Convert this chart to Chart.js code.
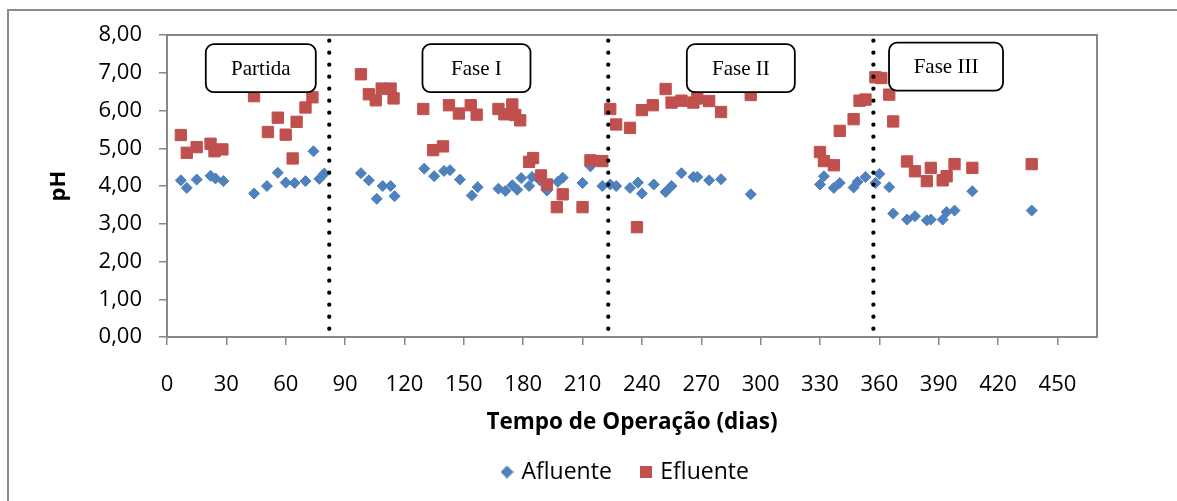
<!DOCTYPE html>
<html lang="pt">
<head>
<meta charset="utf-8">
<title>pH afluente e efluente</title>
<script src="https://cdn.jsdelivr.net/npm/chart.js@4.4.1/dist/chart.umd.min.js"></script>
<style>
  html, body { margin: 0; padding: 0; background: #ffffff; overflow: hidden; }
  #wrap { position: relative; width: 1177px; height: 501px; }
  canvas { display: block; }
</style>
</head>
<body>
<div id="wrap"><canvas id="grafico" width="1177" height="501"></canvas></div>
<script>
// Dias de operação e pH medido no afluente
const afluenteDias = [7, 10, 15, 22, 24.5, 28.5, 44, 50.5, 56, 60, 64.5, 70, 74, 77, 79.5,
  98, 102, 106, 109, 113, 115, 130, 135, 140, 143, 148, 154, 157, 167.5, 171, 174.5, 177, 179,
  183, 184.5, 188.5, 192, 197.5, 200, 210, 214, 220,
  224, 227, 234, 238, 240, 246, 252, 255, 260, 266, 268, 274, 280, 295,
  330, 332, 337, 340, 347, 349, 353, 358,
  360, 365, 367, 374, 378, 384, 386, 392, 394, 398, 407, 437];
const afluentePH = [4.15, 3.95, 4.17, 4.27, 4.20, 4.13, 3.80, 4.00, 4.35, 4.09, 4.08, 4.13, 4.92, 4.19, 4.33,
  4.34, 4.15, 3.66, 4.00, 4.00, 3.73, 4.46, 4.26, 4.40, 4.42, 4.17, 3.75, 3.97, 3.93, 3.87, 4.02, 3.90, 4.21,
  4.00, 4.24, 4.15, 3.88, 4.11, 4.22, 4.08, 4.52, 4.00,
  4.04, 4.00, 3.95, 4.09, 3.80, 4.04, 3.84, 4.00, 4.34, 4.24, 4.24, 4.15, 4.18, 3.78,
  4.04, 4.26, 3.95, 4.08, 3.96, 4.11, 4.24, 4.08,
  4.32, 3.97, 3.27, 3.11, 3.20, 3.09, 3.11, 3.11, 3.31, 3.35, 3.86, 3.35];

// Dias de operação e pH medido no efluente
const efluenteDias = [7, 10, 15, 22, 24, 28, 44, 51, 56, 60, 63.5, 65.5, 70, 73.5,
  98, 102, 105.5, 108.5, 113, 114.5, 129.5, 134.5, 139.5, 142.5, 147.5, 153.5, 156.5,
  167.5, 170.5, 174.5, 176, 178.5, 183, 185, 189, 192, 197, 200, 210, 214, 220,
  224, 227, 234, 237.5, 240, 245.5, 252, 255, 260, 266, 268, 274, 280, 295,
  330, 332, 337, 340, 347, 350, 353, 358,
  361, 365, 367, 374, 378, 384, 386, 392, 394, 398, 407, 437];
const efluentePH = [5.35, 4.88, 5.03, 5.12, 4.92, 4.97, 6.38, 5.43, 5.81, 5.36, 4.73, 5.70, 6.08, 6.35,
  6.96, 6.43, 6.27, 6.58, 6.58, 6.32, 6.04, 4.95, 5.05, 6.14, 5.92, 6.14, 5.89,
  6.04, 5.90, 6.16, 5.88, 5.74, 4.64, 4.74, 4.28, 4.04, 3.44, 3.78, 3.44, 4.68, 4.66,
  6.04, 5.63, 5.54, 2.91, 6.01, 6.14, 6.57, 6.21, 6.26, 6.21, 6.32, 6.25, 5.96, 6.41,
  4.90, 4.66, 4.55, 5.46, 5.77, 6.26, 6.29, 6.88,
  6.86, 6.42, 5.71, 4.65, 4.39, 4.13, 4.48, 4.15, 4.26, 4.58, 4.48, 4.58];

// Início de cada fase (dias) e nomes das fases
const mudancaFaseDias = [82, 223, 357];
const nomesFases = ['Partida', 'Fase I', 'Fase II', 'Fase III'];

// Rótulos dos eixos
const xTicks = [0, 30, 60, 90, 120, 150, 180, 210, 240, 270, 300, 330, 360, 390, 420, 450];
const yTicks = [0, 1, 2, 3, 4, 5, 6, 7, 8];

const FONT = "'Open Sans', 'DejaVu Sans', sans-serif";
const AZUL = '#4F81BD';
const VERMELHO = '#C0504D';
const CINZA = '#868686';

// Caixas com o nome de cada fase: centro em coordenadas do gráfico, tamanho em px
const caixasFases = [
  { texto: nomesFases[0], dia: 47.4, ph: 7.12, w: 110, h: 48 },
  { texto: nomesFases[1], dia: 156.4, ph: 7.12, w: 108, h: 48 },
  { texto: nomesFases[2], dia: 290, ph: 7.12, w: 108, h: 48 },
  { texto: nomesFases[3], dia: 393.7, ph: 7.16, w: 114, h: 48 }
];

const pontos = (xs, ys) => xs.map((x, i) => ({ x: x, y: ys[i] }));

// Linhas pontilhadas verticais que separam as fases
const linhasFases = mudancaFaseDias.map(d => ({
  type: 'line',
  label: '',
  data: [{ x: d, y: 8 }, { x: d, y: 0 }],
  showLine: true,
  borderColor: '#000000',
  borderWidth: 4.3,
  borderDash: [0.001, 12],
  borderDashOffset: 6.3,
  borderCapStyle: 'round',
  pointRadius: 0,
  order: 0
}));

// Marcadores da legenda
function marcador(tipo, cor) {
  const c = document.createElement('canvas');
  const s = tipo === 'losango' ? 13 : 12;
  c.width = s; c.height = s;
  const g = c.getContext('2d');
  g.fillStyle = cor;
  if (tipo === 'losango') {
    g.beginPath();
    g.moveTo(s / 2, 0); g.lineTo(s, s / 2); g.lineTo(s / 2, s); g.lineTo(0, s / 2);
    g.closePath(); g.fill();
  } else {
    g.fillRect(0, 0, s, s);
  }
  return c;
}
const iconeAfluente = marcador('losango', AZUL);
const iconeEfluente = marcador('quadrado', VERMELHO);

function caixaArredondada(ctx, x, y, w, h, r) {
  ctx.beginPath();
  ctx.moveTo(x + r, y);
  ctx.lineTo(x + w - r, y);
  ctx.arcTo(x + w, y, x + w, y + r, r);
  ctx.lineTo(x + w, y + h - r);
  ctx.arcTo(x + w, y + h, x + w - r, y + h, r);
  ctx.lineTo(x + r, y + h);
  ctx.arcTo(x, y + h, x, y + h - r, r);
  ctx.lineTo(x, y + r);
  ctx.arcTo(x, y, x + r, y, r);
  ctx.closePath();
}

const molduras = {
  id: 'molduras',
  beforeDraw(chart) {
    const ctx = chart.ctx;
    ctx.save();
    ctx.fillStyle = '#ffffff';
    ctx.fillRect(0, 0, chart.width, chart.height);
    ctx.strokeStyle = '#8a8a8a';
    ctx.lineWidth = 2;
    ctx.strokeRect(8, 10, 1400, 800);
    ctx.restore();
  },
  beforeDatasetsDraw(chart) {
    const a = chart.chartArea;
    const ctx = chart.ctx;
    ctx.save();
    ctx.strokeStyle = CINZA;
    ctx.lineWidth = 2;
    ctx.strokeRect(a.left, a.top, a.right - a.left, a.bottom - a.top);
    ctx.restore();
  }
};

const rotulosFases = {
  id: 'rotulosFases',
  afterDraw(chart) {
    const ctx = chart.ctx;
    const sx = chart.scales.x, sy = chart.scales.y;
    ctx.save();
    caixasFases.forEach(c => {
      const cx = sx.getPixelForValue(c.dia);
      const cy = sy.getPixelForValue(c.ph);
      caixaArredondada(ctx, cx - c.w / 2, cy - c.h / 2, c.w, c.h, 8);
      ctx.fillStyle = '#ffffff';
      ctx.fill();
      ctx.lineWidth = 1.8;
      ctx.strokeStyle = '#000000';
      ctx.stroke();
      ctx.fillStyle = '#000000';
      ctx.font = "21px 'Liberation Serif', 'Times New Roman', serif";
      ctx.textAlign = 'center';
      ctx.textBaseline = 'middle';
      ctx.fillText(c.texto, cx, cy + 1);
    });
    ctx.restore();
  }
};

// Posição da legenda abaixo do título do eixo x
const posLegenda = {
  id: 'posLegenda',
  afterLayout(chart) {
    const lg = chart.legend;
    if (!lg || !lg.lineWidths) return;
    const pad = lg.options.labels.padding;
    const atual = (lg.left + pad + lg.right - lg.lineWidths[0]) / 2;
    const dx = 504 - atual;
    lg.left += dx; lg.right += dx;
    const dy = 429.5 - lg.top;
    lg.top += dy; lg.bottom += dy;
  }
};

new Chart(document.getElementById('grafico'), {
  type: 'scatter',
  data: {
    datasets: [
      ...linhasFases,
      {
        label: 'Efluente',
        data: pontos(efluenteDias, efluentePH),
        pointStyle: 'rect',
        pointRadius: 8,
        backgroundColor: VERMELHO,
        borderColor: VERMELHO,
        borderWidth: 1,
        order: 1
      },
      {
        label: 'Afluente',
        data: pontos(afluenteDias, afluentePH),
        pointStyle: 'rectRot',
        pointRadius: 5.5,
        backgroundColor: AZUL,
        borderColor: AZUL,
        borderWidth: 1,
        order: 2
      }
    ]
  },
  options: {
    responsive: false,
    animation: false,
    devicePixelRatio: 1,
    events: [],
    layout: { padding: { left: 0, right: 80, top: 35, bottom: 0 } },
    scales: {
      x: {
        type: 'linear',
        min: 0,
        max: 470,
        afterBuildTicks(scale) { scale.ticks = xTicks.map(v => ({ value: v })); },
        afterFit(scale) { scale.height = 100; },
        ticks: {
          color: '#000000',
          padding: 27,
          font: { family: FONT, size: 22 },
          callback: v => String(v)
        },
        grid: { drawOnChartArea: false, drawTicks: true, tickLength: 8, color: CINZA, lineWidth: 1.5 },
        border: { display: true, color: CINZA, width: 2 },
        title: {
          display: true,
          text: 'Tempo de Operação (dias)',
          color: '#000000',
          font: { family: FONT, size: 22.5, weight: 'bold' },
          padding: { top: 0, bottom: 0.5 }
        }
      },
      y: {
        type: 'linear',
        min: 0,
        max: 8,
        afterBuildTicks(scale) { scale.ticks = yTicks.map(v => ({ value: v })); },
        afterFit(scale) { scale.width = 167; },
        ticks: {
          color: '#000000',
          padding: 17,
          font: { family: FONT, size: 22 },
          callback: v => Number(v).toFixed(2).replace('.', ',')
        },
        grid: { drawOnChartArea: false, drawTicks: true, tickLength: 8, color: CINZA, lineWidth: 1.5 },
        border: { display: true, color: CINZA, width: 2 },
        title: {
          display: true,
          text: 'pH',
          color: '#000000',
          font: { family: FONT, size: 22, weight: 'bold' },
          padding: { top: 46, bottom: 0 }
        }
      }
    },
    plugins: {
      tooltip: { enabled: false },
      title: { display: false },
      legend: {
        display: true,
        position: 'bottom',
        labels: {
          usePointStyle: true,
          pointStyleWidth: 6,
          padding: 31,
          color: '#000000',
          font: { family: FONT, size: 23 },
          generateLabels: () => [
            { text: 'Afluente', pointStyle: iconeAfluente, fillStyle: AZUL, strokeStyle: AZUL, lineWidth: 0, hidden: false, datasetIndex: 4 },
            { text: 'Efluente', pointStyle: iconeEfluente, fillStyle: VERMELHO, strokeStyle: VERMELHO, lineWidth: 0, hidden: false, datasetIndex: 3 }
          ]
        }
      }
    }
  },
  plugins: [molduras, rotulosFases, posLegenda]
});
</script>
</body>
</html>
